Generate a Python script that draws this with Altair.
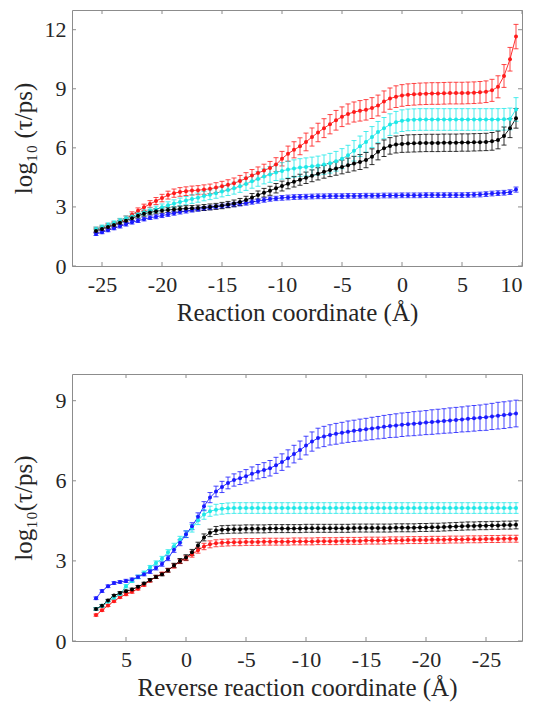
import altair as alt
import pandas as pd

# ---------------- data: top panel ----------------
top_x = [-25.5, -25, -24.5, -24, -23.5, -23, -22.5, -22, -21.5, -21, -20.5, -20,
         -19.5, -19, -18.5, -18, -17.5, -17, -16.5, -16, -15.5, -15, -14.5, -14,
         -13.5, -13, -12.5, -12, -11.5, -11, -10.5, -10, -9.5, -9, -8.5, -8,
         -7.5, -7, -6.5, -6, -5.5, -5, -4.5, -4, -3.5, -3, -2.5, -2, -1.5, -1,
         -0.5, 0, 0.5, 1, 1.5, 2, 2.5, 3, 3.5, 4, 4.5, 5, 5.5, 6, 6.5, 7, 7.5,
         8, 8.5, 9, 9.5]

top_red = [1.85, 1.92, 2.02, 2.12, 2.25, 2.4, 2.6, 2.8,
           2.98, 3.15, 3.3, 3.45, 3.6, 3.7, 3.76, 3.8,
           3.83, 3.85, 3.88, 3.92, 3.98, 4.05, 4.12, 4.2,
           4.32, 4.45, 4.6, 4.72, 4.85, 4.98, 5.15, 5.45,
           5.7, 5.9, 6.08, 6.3, 6.55, 6.78, 7.0, 7.2,
           7.4, 7.58, 7.72, 7.82, 7.88, 7.93, 8.02, 8.15,
           8.35, 8.5, 8.6, 8.66, 8.7, 8.72, 8.74, 8.75,
           8.76, 8.76, 8.77, 8.78, 8.78, 8.78, 8.79, 8.8,
           8.82, 8.85, 8.92, 9.1, 9.65, 10.5, 11.65]
top_red_err = [0.12, 0.12, 0.13, 0.13, 0.14, 0.14, 0.15, 0.15,
               0.16, 0.17, 0.18, 0.19, 0.2, 0.21, 0.22, 0.22,
               0.23, 0.23, 0.24, 0.24, 0.25, 0.25, 0.26, 0.27,
               0.28, 0.29, 0.3, 0.31, 0.32, 0.33, 0.35, 0.37,
               0.39, 0.41, 0.43, 0.45, 0.46, 0.47, 0.48, 0.49,
               0.5, 0.5, 0.51, 0.51, 0.52, 0.52, 0.53, 0.53,
               0.54, 0.54, 0.55, 0.55, 0.55, 0.55, 0.55, 0.55,
               0.55, 0.55, 0.55, 0.55, 0.55, 0.55, 0.55, 0.55,
               0.55, 0.55, 0.56, 0.56, 0.58, 0.6, 0.62]

top_cyan = [1.88, 1.98, 2.08, 2.18, 2.3, 2.42, 2.52, 2.62,
            2.72, 2.8, 2.88, 2.98, 3.08, 3.17, 3.25, 3.32,
            3.4, 3.47, 3.55, 3.62, 3.7, 3.78, 3.86, 3.95,
            4.05, 4.17, 4.3, 4.42, 4.55, 4.65, 4.75, 4.83,
            4.9, 4.95, 5.0, 5.03, 5.06, 5.1, 5.15, 5.22,
            5.32, 5.45, 5.62, 5.85, 6.08, 6.3, 6.55, 6.8,
            7.0, 7.18, 7.3, 7.38, 7.42, 7.43, 7.44, 7.44,
            7.44, 7.44, 7.44, 7.44, 7.44, 7.44, 7.44, 7.44,
            7.44, 7.44, 7.44, 7.44, 7.45, 7.47, 7.95]
top_cyan_err = [0.1, 0.1, 0.11, 0.11, 0.12, 0.12, 0.13, 0.13,
                0.14, 0.15, 0.16, 0.17, 0.18, 0.19, 0.2, 0.21,
                0.22, 0.23, 0.24, 0.25, 0.26, 0.27, 0.28, 0.3,
                0.31, 0.33, 0.35, 0.37, 0.38, 0.4, 0.41, 0.42,
                0.43, 0.44, 0.45, 0.46, 0.47, 0.48, 0.49, 0.5,
                0.5, 0.51, 0.51, 0.52, 0.52, 0.53, 0.53, 0.54,
                0.54, 0.55, 0.55, 0.55, 0.55, 0.55, 0.55, 0.55,
                0.55, 0.55, 0.55, 0.55, 0.55, 0.55, 0.55, 0.55,
                0.55, 0.55, 0.55, 0.55, 0.55, 0.55, 0.6]

top_black = [1.78, 1.88, 1.98, 2.08, 2.2, 2.3, 2.42, 2.55,
             2.65, 2.72, 2.78, 2.82, 2.85, 2.87, 2.9, 2.92,
             2.93, 2.95, 2.97, 3.0, 3.03, 3.07, 3.12, 3.18,
             3.25, 3.35, 3.48, 3.6, 3.72, 3.82, 3.95, 4.06,
             4.18, 4.28, 4.38, 4.48, 4.58, 4.68, 4.78, 4.87,
             4.95, 5.03, 5.12, 5.2, 5.28, 5.38, 5.55, 5.8,
             5.98, 6.1, 6.17, 6.2, 6.22, 6.23, 6.24, 6.25,
             6.25, 6.25, 6.26, 6.26, 6.26, 6.27, 6.27, 6.28,
             6.29, 6.3, 6.33, 6.4, 6.6, 7.0, 7.5]
top_black_err = [0.1, 0.1, 0.1, 0.11, 0.11, 0.11, 0.12, 0.12,
                 0.12, 0.12, 0.13, 0.13, 0.13, 0.13, 0.14, 0.14,
                 0.14, 0.14, 0.15, 0.15, 0.15, 0.16, 0.16, 0.17,
                 0.18, 0.19, 0.2, 0.21, 0.22, 0.23, 0.24, 0.25,
                 0.26, 0.27, 0.28, 0.29, 0.3, 0.31, 0.32, 0.33,
                 0.34, 0.35, 0.36, 0.37, 0.38, 0.39, 0.4, 0.41,
                 0.42, 0.42, 0.43, 0.43, 0.44, 0.44, 0.44, 0.44,
                 0.44, 0.44, 0.44, 0.44, 0.44, 0.44, 0.44, 0.44,
                 0.44, 0.44, 0.45, 0.45, 0.46, 0.48, 0.5]

top_blue = [1.63, 1.72, 1.82, 1.92, 2.02, 2.12, 2.22, 2.3,
            2.38, 2.45, 2.5, 2.56, 2.62, 2.68, 2.74, 2.79,
            2.84, 2.88, 2.92, 2.96, 3.0, 3.04, 3.08, 3.12,
            3.16, 3.2, 3.25, 3.3, 3.35, 3.4, 3.43, 3.46,
            3.48, 3.5, 3.51, 3.52, 3.53, 3.54, 3.54, 3.55,
            3.55, 3.55, 3.56, 3.56, 3.56, 3.57, 3.57, 3.57,
            3.58, 3.58, 3.58, 3.59, 3.59, 3.59, 3.59, 3.6,
            3.6, 3.6, 3.6, 3.6, 3.6, 3.6, 3.61, 3.62,
            3.63, 3.65, 3.68, 3.7, 3.72, 3.75, 3.88]
top_blue_err = [0.08, 0.08, 0.08, 0.08, 0.09, 0.09, 0.09, 0.09,
                0.09, 0.09, 0.1, 0.1, 0.1, 0.1, 0.1, 0.1,
                0.1, 0.1, 0.1, 0.1, 0.1, 0.1, 0.11, 0.11,
                0.11, 0.11, 0.11, 0.11, 0.11, 0.11, 0.11, 0.12,
                0.12, 0.12, 0.12, 0.12, 0.12, 0.12, 0.12, 0.12,
                0.12, 0.12, 0.12, 0.12, 0.12, 0.12, 0.12, 0.12,
                0.12, 0.12, 0.12, 0.12, 0.12, 0.12, 0.12, 0.12,
                0.12, 0.12, 0.12, 0.12, 0.12, 0.12, 0.12, 0.12,
                0.12, 0.12, 0.12, 0.12, 0.12, 0.12, 0.13]

# ---------------- data: bottom panel ----------------
bot_x = [7.5, 7, 6.5, 6, 5.5, 5, 4.5, 4, 3.5, 3, 2.5, 2, 1.5, 1, 0.5, 0,
         -0.5, -1, -1.5, -2, -2.5, -3, -3.5, -4, -4.5, -5, -5.5, -6, -6.5, -7,
         -7.5, -8, -8.5, -9, -9.5, -10, -10.5, -11, -11.5, -12, -12.5, -13,
         -13.5, -14, -14.5, -15, -15.5, -16, -16.5, -17, -17.5, -18, -18.5, -19,
         -19.5, -20, -20.5, -21, -21.5, -22, -22.5, -23, -23.5, -24, -24.5, -25,
         -25.5, -26, -26.5, -27, -27.5]

bot_blue = [1.6, 1.87, 2.05, 2.17, 2.21, 2.25, 2.3, 2.4,
            2.5, 2.6, 2.73, 2.88, 3.1, 3.42, 3.68, 4.0,
            4.3, 4.65, 5.05, 5.37, 5.6, 5.77, 5.92, 6.03,
            6.1, 6.17, 6.26, 6.34, 6.4, 6.47, 6.58, 6.7,
            6.84, 7.0, 7.15, 7.32, 7.47, 7.6, 7.66, 7.72,
            7.76, 7.8, 7.84, 7.87, 7.9, 7.93, 7.96, 7.99,
            8.02, 8.05, 8.07, 8.1, 8.12, 8.14, 8.16, 8.18,
            8.2, 8.22, 8.24, 8.26, 8.28, 8.3, 8.32, 8.34,
            8.36, 8.38, 8.41, 8.44, 8.46, 8.49, 8.52]
bot_blue_err = [0.05, 0.05, 0.05, 0.05, 0.05, 0.06, 0.06, 0.06,
                0.06, 0.07, 0.07, 0.08, 0.09, 0.1, 0.11, 0.12,
                0.13, 0.15, 0.17, 0.19, 0.2, 0.21, 0.22, 0.23,
                0.24, 0.25, 0.26, 0.27, 0.28, 0.29, 0.3, 0.31,
                0.32, 0.33, 0.34, 0.35, 0.36, 0.37, 0.38, 0.38,
                0.39, 0.39, 0.4, 0.4, 0.41, 0.41, 0.42, 0.42,
                0.43, 0.43, 0.44, 0.44, 0.44, 0.45, 0.45, 0.45,
                0.46, 0.46, 0.46, 0.47, 0.47, 0.47, 0.48, 0.48,
                0.48, 0.49, 0.49, 0.5, 0.5, 0.5, 0.5]

bot_cyan = [1.2, 1.32, 1.48, 1.62, 1.75, 2.05, 2.25, 2.4,
            2.55, 2.75, 2.92, 3.08, 3.32, 3.55, 3.8, 4.0,
            4.22, 4.52, 4.74, 4.86, 4.92, 4.95, 4.97, 4.98,
            4.98, 4.98, 4.98, 4.98, 4.98, 4.98, 4.98, 4.98,
            4.98, 4.98, 4.98, 4.98, 4.98, 4.98, 4.98, 4.98,
            4.98, 4.98, 4.98, 4.98, 4.98, 4.98, 4.98, 4.98,
            4.98, 4.98, 4.98, 4.98, 4.98, 4.98, 4.98, 4.98,
            4.98, 4.98, 4.98, 4.98, 4.98, 4.98, 4.98, 4.98,
            4.98, 4.98, 4.98, 4.98, 4.98, 4.98, 4.98]
bot_cyan_err = [0.05, 0.05, 0.05, 0.05, 0.06, 0.06, 0.06, 0.07,
                0.07, 0.08, 0.08, 0.09, 0.1, 0.11, 0.12, 0.13,
                0.14, 0.16, 0.18, 0.19, 0.2, 0.2, 0.2, 0.2,
                0.2, 0.2, 0.2, 0.2, 0.2, 0.2, 0.2, 0.2,
                0.2, 0.2, 0.2, 0.2, 0.2, 0.2, 0.2, 0.2,
                0.2, 0.2, 0.2, 0.2, 0.2, 0.2, 0.2, 0.2,
                0.2, 0.2, 0.2, 0.2, 0.2, 0.2, 0.2, 0.2,
                0.2, 0.2, 0.2, 0.2, 0.2, 0.2, 0.2, 0.2,
                0.2, 0.2, 0.2, 0.2, 0.2, 0.2, 0.2]

bot_black = [1.2, 1.32, 1.52, 1.7, 1.8, 1.86, 1.93, 2.03,
             2.15, 2.28, 2.4, 2.5, 2.65, 2.83, 3.0, 3.13,
             3.32, 3.58, 3.88, 4.05, 4.14, 4.17, 4.18, 4.19,
             4.19, 4.2, 4.2, 4.2, 4.2, 4.21, 4.21, 4.21,
             4.21, 4.21, 4.21, 4.22, 4.22, 4.22, 4.22, 4.22,
             4.22, 4.22, 4.22, 4.23, 4.23, 4.23, 4.23, 4.23,
             4.23, 4.23, 4.24, 4.24, 4.24, 4.24, 4.25, 4.25,
             4.26, 4.26, 4.27, 4.28, 4.29, 4.3, 4.31, 4.31,
             4.32, 4.32, 4.33, 4.33, 4.34, 4.34, 4.35]
bot_black_err = [0.04, 0.04, 0.04, 0.04, 0.05, 0.05, 0.05, 0.05,
                 0.05, 0.06, 0.06, 0.06, 0.07, 0.08, 0.09, 0.1,
                 0.11, 0.12, 0.13, 0.14, 0.15, 0.15, 0.15, 0.15,
                 0.15, 0.15, 0.15, 0.15, 0.15, 0.15, 0.15, 0.15,
                 0.15, 0.15, 0.15, 0.15, 0.15, 0.15, 0.15, 0.15,
                 0.15, 0.15, 0.15, 0.15, 0.15, 0.15, 0.15, 0.15,
                 0.15, 0.15, 0.15, 0.15, 0.15, 0.15, 0.15, 0.15,
                 0.15, 0.15, 0.15, 0.15, 0.15, 0.15, 0.15, 0.15,
                 0.15, 0.15, 0.15, 0.15, 0.15, 0.15, 0.15]

bot_red = [0.97, 1.15, 1.33, 1.49, 1.64, 1.75, 1.84, 1.96,
           2.1, 2.26, 2.4, 2.52, 2.65, 2.81, 2.98, 3.1,
           3.24, 3.4, 3.54, 3.62, 3.66, 3.68, 3.69, 3.7,
           3.7, 3.71, 3.71, 3.71, 3.72, 3.72, 3.72, 3.72,
           3.72, 3.73, 3.73, 3.73, 3.73, 3.74, 3.74, 3.74,
           3.74, 3.75, 3.75, 3.75, 3.75, 3.76, 3.76, 3.76,
           3.76, 3.77, 3.77, 3.77, 3.78, 3.78, 3.78, 3.78,
           3.79, 3.79, 3.79, 3.8, 3.8, 3.8, 3.81, 3.81,
           3.81, 3.82, 3.82, 3.82, 3.83, 3.83, 3.83]
bot_red_err = [0.04, 0.04, 0.04, 0.04, 0.04, 0.05, 0.05, 0.05,
               0.05, 0.05, 0.06, 0.06, 0.07, 0.08, 0.08, 0.09,
               0.1, 0.11, 0.12, 0.13, 0.13, 0.13, 0.13, 0.13,
               0.13, 0.13, 0.13, 0.13, 0.13, 0.13, 0.13, 0.13,
               0.13, 0.13, 0.13, 0.13, 0.13, 0.13, 0.13, 0.13,
               0.13, 0.13, 0.13, 0.13, 0.13, 0.13, 0.13, 0.13,
               0.13, 0.13, 0.13, 0.13, 0.13, 0.13, 0.13, 0.13,
               0.13, 0.13, 0.13, 0.13, 0.13, 0.13, 0.13, 0.13,
               0.13, 0.13, 0.13, 0.13, 0.13, 0.13, 0.13]

series_names = ["red", "cyan", "blue", "black"]
series_colors = ["#ff1a1a", "#1ee8e8", "#1a1aff", "#000000"]

top_x_ticks = [-25, -20, -15, -10, -5, 0, 5, 10]
top_y_ticks = [0, 3, 6, 9, 12]
bot_x_ticks = [5, 0, -5, -10, -15, -20, -25]
bot_y_ticks = [0, 3, 6, 9]

GRAY = "#8c8c8c"
W = 450


def make_df(xs, vals, errs):
    rows = []
    for name in series_names:
        for x, y, e in zip(xs, vals[name], errs[name]):
            rows.append({"x": x, "y": y, "lo": y - e, "hi": y + e, "s": name})
    return pd.DataFrame(rows)


def panel(df, xdom, xrev, xticks, ydom, yticks, xtitle, ytitle, h):
    xs = alt.Scale(domain=xdom, nice=False, zero=False, reverse=xrev)
    ys = alt.Scale(domain=ydom, nice=False, zero=False)
    xaxis = alt.Axis(values=xticks, title=xtitle, grid=False, ticks=False,
                     domain=False, labelExpr="'' + datum.value")
    yaxis = alt.Axis(values=yticks, title=ytitle, grid=False, ticks=False,
                     domain=False, labelExpr="'' + datum.value")
    color = alt.Color("s:N", scale=alt.Scale(domain=series_names, range=series_colors),
                      legend=None)
    X = alt.X("x:Q", scale=xs, axis=xaxis)
    base = alt.Chart(df)
    err = base.mark_errorbar(ticks=True, size=5, thickness=1, opacity=0.8).encode(
        x=X, y=alt.Y("lo:Q", scale=ys, axis=yaxis), y2="hi:Q", color=color)
    line = base.mark_line(strokeWidth=1, opacity=0.9).encode(
        x=X, y=alt.Y("y:Q", scale=ys, axis=yaxis), color=color, detail="s:N")
    pts = base.mark_point(filled=True, size=16, opacity=1, shape="circle").encode(
        x=X, y=alt.Y("y:Q", scale=ys, axis=yaxis), color=color)

    xt = alt.Chart(pd.DataFrame({"t": xticks}))
    yt = alt.Chart(pd.DataFrame({"t": yticks}))
    XT = alt.X("t:Q", scale=xs, axis=xaxis)
    YT = alt.Y("t:Q", scale=ys, axis=yaxis)
    xt_b = xt.mark_rule(color=GRAY, strokeWidth=1).encode(x=XT, y=alt.value(h), y2=alt.value(h - 4))
    xt_t = xt.mark_rule(color=GRAY, strokeWidth=1).encode(x=XT, y=alt.value(0), y2=alt.value(4))
    yt_l = yt.mark_rule(color=GRAY, strokeWidth=1).encode(y=YT, x=alt.value(0), x2=alt.value(4))
    yt_r = yt.mark_rule(color=GRAY, strokeWidth=1).encode(y=YT, x=alt.value(W), x2=alt.value(W - 4))
    return alt.layer(xt_b, xt_t, yt_l, yt_r, line, err, pts).properties(width=W, height=h)


top_df = make_df(top_x,
                 {"red": top_red, "cyan": top_cyan, "blue": top_blue, "black": top_black},
                 {"red": top_red_err, "cyan": top_cyan_err, "blue": top_blue_err, "black": top_black_err})
bot_df = make_df(bot_x,
                 {"red": bot_red, "cyan": bot_cyan, "blue": bot_blue, "black": bot_black},
                 {"red": bot_red_err, "cyan": bot_cyan_err, "blue": bot_blue_err, "black": bot_black_err})

top = panel(top_df, [-27.5, 10], False, top_x_ticks, [0, 13], top_y_ticks,
            "Reaction coordinate (Å)", "log₁₀ (τ/ps)", 256)
bottom = panel(bot_df, [-28, 9.5], True, bot_x_ticks, [0, 10], bot_y_ticks,
               "Reverse reaction coordinate (Å)", "log₁₀(τ/ps)", 267)

chart = alt.vconcat(top, bottom, spacing=108, bounds="flush").properties(
    padding={"left": 2, "top": 1, "right": 5, "bottom": 5},
    background="white"
).configure_view(stroke=GRAY, strokeWidth=1).configure_axis(
    labelFont="Liberation Serif", labelFontSize=22, labelColor="#262626",
    titleFont="Liberation Serif", titleFontSize=25, titleFontWeight="normal",
    titleColor="#262626"
).configure_axisX(labelPadding=8, titlePadding=5).configure_axisY(
    labelPadding=6, titlePadding=6, minExtent=30, maxExtent=30
)

chart.save("out.html", embed_options={"renderer": "svg", "actions": False})
